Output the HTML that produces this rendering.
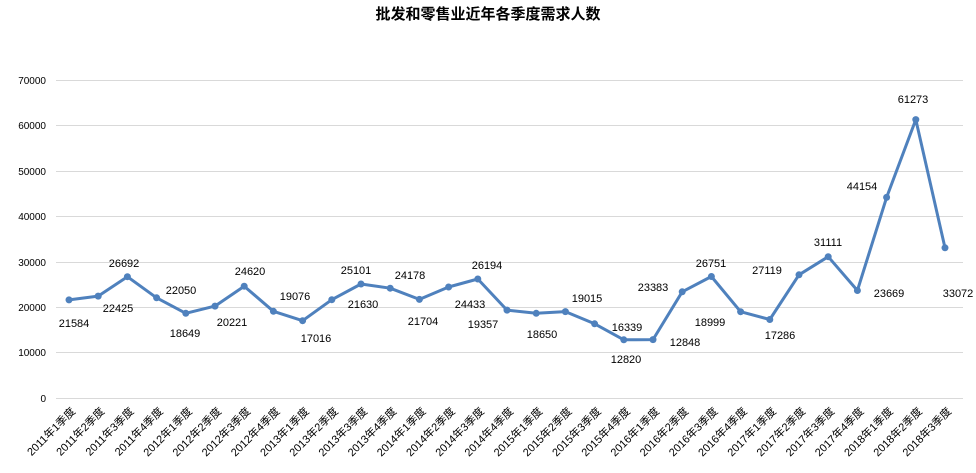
<!DOCTYPE html>
<html><head><meta charset="utf-8"><style>
body{margin:0;background:#fff}
svg{display:block}
text{font-family:"Liberation Sans","Noto Sans CJK SC",sans-serif}
</style></head><body>
<svg width="976" height="473" viewBox="0 0 976 473" xmlns="http://www.w3.org/2000/svg">
<rect width="976" height="473" fill="#fff"/>
<text x="488" y="19" text-anchor="middle" font-size="15" font-weight="bold" fill="#000">批发和零售业近年各季度需求人数</text>
<g stroke="#d9d9d9" stroke-width="1">
<line x1="56" y1="80.5" x2="963" y2="80.5"/>
<line x1="56" y1="125.5" x2="963" y2="125.5"/>
<line x1="56" y1="171.5" x2="963" y2="171.5"/>
<line x1="56" y1="216.5" x2="963" y2="216.5"/>
<line x1="56" y1="262.5" x2="963" y2="262.5"/>
<line x1="56" y1="307.5" x2="963" y2="307.5"/>
<line x1="56" y1="352.5" x2="963" y2="352.5"/>
<line x1="56" y1="398.5" x2="963" y2="398.5"/>
</g>
<g font-size="10" fill="#000" text-anchor="end">
<text x="46" y="84">70000</text><text x="46" y="129">60000</text><text x="46" y="175">50000</text>
<text x="46" y="220">40000</text><text x="46" y="266">30000</text><text x="46" y="311">20000</text>
<text x="46" y="356">10000</text><text x="46" y="402">0</text>
</g>
<polyline fill="none" stroke="#4f81bd" stroke-width="3" stroke-linejoin="round" points="69,299.9 98.2,296.1 127.4,276.7 156.6,297.8 185.8,313.3 215,306.1 244.2,286.2 273.4,311.3 302.6,320.7 331.8,299.7 361,284 390.2,288.2 419.4,299.4 448.6,287 477.8,279 507,310.1 536.2,313.3 565.4,311.6 594.6,323.8 623.8,339.8 653,339.6 682.2,291.8 711.4,276.5 740.6,311.7 769.8,319.5 799,274.8 828.2,256.7 857.4,290.5 886.6,197.4 915.8,119.6 945,247.8"/>
<g fill="#4f81bd">
<circle cx="69" cy="299.9" r="3.5"/><circle cx="98.2" cy="296.1" r="3.5"/><circle cx="127.4" cy="276.7" r="3.5"/><circle cx="156.6" cy="297.8" r="3.5"/><circle cx="185.8" cy="313.3" r="3.5"/><circle cx="215" cy="306.1" r="3.5"/><circle cx="244.2" cy="286.2" r="3.5"/><circle cx="273.4" cy="311.3" r="3.5"/><circle cx="302.6" cy="320.7" r="3.5"/><circle cx="331.8" cy="299.7" r="3.5"/><circle cx="361" cy="284" r="3.5"/><circle cx="390.2" cy="288.2" r="3.5"/><circle cx="419.4" cy="299.4" r="3.5"/><circle cx="448.6" cy="287" r="3.5"/><circle cx="477.8" cy="279" r="3.5"/><circle cx="507" cy="310.1" r="3.5"/><circle cx="536.2" cy="313.3" r="3.5"/><circle cx="565.4" cy="311.6" r="3.5"/><circle cx="594.6" cy="323.8" r="3.5"/><circle cx="623.8" cy="339.8" r="3.5"/><circle cx="653" cy="339.6" r="3.5"/><circle cx="682.2" cy="291.8" r="3.5"/><circle cx="711.4" cy="276.5" r="3.5"/><circle cx="740.6" cy="311.7" r="3.5"/><circle cx="769.8" cy="319.5" r="3.5"/><circle cx="799" cy="274.8" r="3.5"/><circle cx="828.2" cy="256.7" r="3.5"/><circle cx="857.4" cy="290.5" r="3.5"/><circle cx="886.6" cy="197.4" r="3.5"/><circle cx="915.8" cy="119.6" r="3.5"/><circle cx="945" cy="247.8" r="3.5"/>
</g>
<g font-size="11" fill="#000" text-anchor="middle">
<text x="74" y="327">21584</text><text x="118" y="312">22425</text><text x="124" y="267">26692</text><text x="181" y="294">22050</text>
<text x="185" y="337">18649</text><text x="232" y="326">20221</text><text x="250" y="275">24620</text><text x="295" y="300">19076</text>
<text x="316" y="342">17016</text><text x="363" y="308">21630</text><text x="356" y="274">25101</text><text x="410" y="279">24178</text>
<text x="423" y="325">21704</text><text x="470" y="308">24433</text><text x="487" y="269">26194</text><text x="483" y="328">19357</text>
<text x="542" y="338">18650</text><text x="587" y="302">19015</text><text x="627" y="331">16339</text><text x="626" y="363">12820</text>
<text x="685" y="346">12848</text><text x="653" y="291">23383</text><text x="711" y="267">26751</text><text x="710" y="326">18999</text>
<text x="780" y="339">17286</text><text x="767" y="274">27119</text><text x="828" y="246">31111</text><text x="889" y="297">23669</text>
<text x="862" y="190">44154</text><text x="913" y="103">61273</text><text x="958" y="297">33072</text>
</g>
<g font-size="11" fill="#000" text-anchor="end">
<text transform="translate(76,412) rotate(-45)">2011年1季度</text>
<text transform="translate(105.2,412) rotate(-45)">2011年2季度</text>
<text transform="translate(134.4,412) rotate(-45)">2011年3季度</text>
<text transform="translate(163.6,412) rotate(-45)">2011年4季度</text>
<text transform="translate(192.8,412) rotate(-45)">2012年1季度</text>
<text transform="translate(222,412) rotate(-45)">2012年2季度</text>
<text transform="translate(251.2,412) rotate(-45)">2012年3季度</text>
<text transform="translate(280.4,412) rotate(-45)">2012年4季度</text>
<text transform="translate(309.6,412) rotate(-45)">2013年1季度</text>
<text transform="translate(338.8,412) rotate(-45)">2013年2季度</text>
<text transform="translate(368,412) rotate(-45)">2013年3季度</text>
<text transform="translate(397.2,412) rotate(-45)">2013年4季度</text>
<text transform="translate(426.4,412) rotate(-45)">2014年1季度</text>
<text transform="translate(455.6,412) rotate(-45)">2014年2季度</text>
<text transform="translate(484.8,412) rotate(-45)">2014年3季度</text>
<text transform="translate(514,412) rotate(-45)">2014年4季度</text>
<text transform="translate(543.2,412) rotate(-45)">2015年1季度</text>
<text transform="translate(572.4,412) rotate(-45)">2015年2季度</text>
<text transform="translate(601.6,412) rotate(-45)">2015年3季度</text>
<text transform="translate(630.8,412) rotate(-45)">2015年4季度</text>
<text transform="translate(660,412) rotate(-45)">2016年1季度</text>
<text transform="translate(689.2,412) rotate(-45)">2016年2季度</text>
<text transform="translate(718.4,412) rotate(-45)">2016年3季度</text>
<text transform="translate(747.6,412) rotate(-45)">2016年4季度</text>
<text transform="translate(776.8,412) rotate(-45)">2017年1季度</text>
<text transform="translate(806,412) rotate(-45)">2017年2季度</text>
<text transform="translate(835.2,412) rotate(-45)">2017年3季度</text>
<text transform="translate(864.4,412) rotate(-45)">2017年4季度</text>
<text transform="translate(893.6,412) rotate(-45)">2018年1季度</text>
<text transform="translate(922.8,412) rotate(-45)">2018年2季度</text>
<text transform="translate(952,412) rotate(-45)">2018年3季度</text>
</g>
</svg>
</body></html>
